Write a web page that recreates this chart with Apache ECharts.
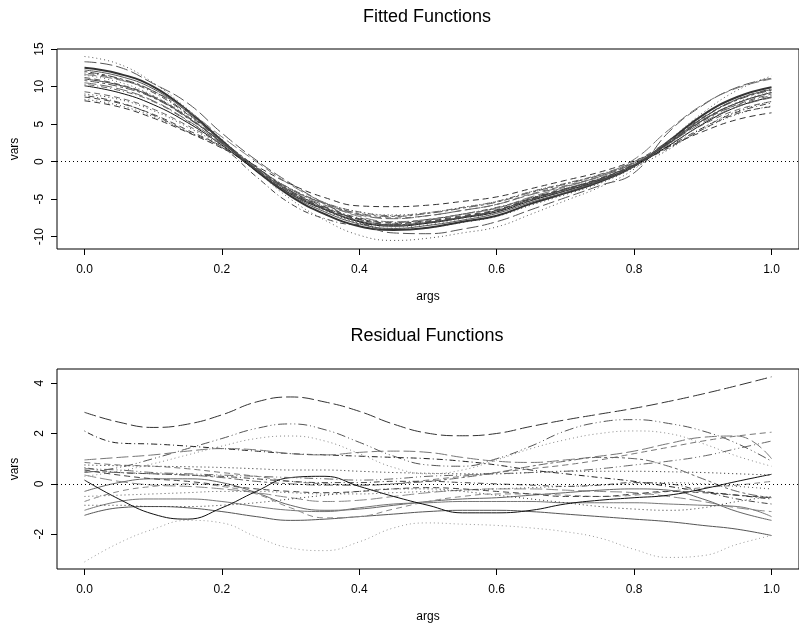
<!DOCTYPE html>
<html><head><meta charset="utf-8">
<script src="https://cdn.jsdelivr.net/npm/echarts@6/dist/echarts.min.js"></script>
<style>html,body{margin:0;padding:0;background:#fff}#c{width:799px;height:624px}</style>
</head><body><div id="c"></div>
<script>
// ---- data ----
const args = [0,0.05,0.1,0.15,0.2,0.25,0.3,0.35,0.4,0.45,0.5,0.55,0.6,0.65,0.7,0.75,0.8,0.85,0.9,0.95,1];
const xTicks = [0,0.2,0.4,0.6,0.8,1];
const fitYTicks = [-10,-5,0,5,10,15];
const resYTicks = [-2,0,2,4];

const fit01 = [12.5,11.7,10.0,6.8,2.8,-1.2,-4.6,-7.0,-8.6,-9.1,-8.8,-8.0,-7.2,-5.6,-4.2,-2.7,-0.6,2.7,6.2,8.6,9.9];
const fit02 = [13.3,12.6,10.4,7.8,3.8,0.2,-2.9,-5.6,-8.0,-9.5,-9.6,-9.0,-8.0,-6.4,-4.8,-3.2,-1.5,3.9,7.5,9.9,11.1];
const fit03 = [14.0,13.0,10.5,7.0,3.0,-1.2,-5.0,-7.8,-9.8,-10.5,-10.2,-9.5,-8.7,-7.0,-5.2,-3.4,-1.0,2.8,6.5,9.5,11.4];
const fit04 = [8.1,7.3,5.8,3.9,1.8,-0.6,-3.0,-4.8,-5.9,-6.0,-5.8,-5.3,-4.7,-3.6,-2.5,-1.4,0.1,2.0,4.0,5.6,6.5];
const fit05 = [8.3,7.5,6.0,4.0,1.9,-0.8,-3.6,-5.5,-6.7,-7.1,-6.8,-6.1,-5.3,-4.0,-2.9,-1.8,-0.2,1.9,4.3,6.3,7.4];
const fit06 = [8.8,7.9,6.2,4.0,1.9,-2.0,-5.6,-7.6,-8.4,-8.3,-7.8,-7.0,-6.1,-4.9,-3.7,-2.4,-0.5,2.0,4.5,6.6,7.8];
const fit07 = [10.1,9.2,7.6,5.2,2.2,-1.2,-4.3,-6.4,-8.0,-8.6,-8.2,-7.5,-6.7,-5.2,-3.9,-2.5,-0.6,2.1,5.0,7.3,8.6];
const fit08 = [11.2,10.3,8.7,6.0,2.6,-0.9,-4.0,-6.2,-7.7,-8.4,-8.0,-7.3,-6.5,-5.0,-3.8,-2.4,-0.5,2.4,5.4,7.6,9.0];
const fit09 = [11.5,10.6,8.8,6.1,2.5,-1.1,-4.3,-6.5,-8.1,-8.7,-8.4,-7.6,-6.8,-5.2,-3.9,-2.5,-0.6,2.3,5.5,7.9,9.3];
const fit10 = [11.8,11.0,9.2,6.3,2.7,-0.8,-3.9,-6.0,-7.5,-8.1,-7.7,-7.0,-6.2,-4.8,-3.6,-2.2,-0.3,2.7,5.9,8.3,9.7];
const fit11 = [10.5,9.7,8.1,5.5,2.4,-1.0,-3.9,-5.8,-7.1,-7.6,-7.2,-6.5,-5.7,-4.4,-3.3,-2.0,-0.2,2.4,5.2,7.3,8.5];
const fit12 = [10.8,10.0,8.5,5.8,2.6,-0.7,-3.7,-5.6,-6.9,-7.3,-6.9,-6.2,-5.4,-4.1,-3.0,-1.8,-0.1,2.6,5.6,7.8,9.2];
const fit13 = [12.2,11.4,9.7,6.6,2.7,-1.1,-4.4,-6.7,-8.3,-8.9,-8.5,-7.8,-6.9,-5.4,-4.1,-2.6,-0.6,2.4,5.8,8.3,9.6];
const fit14 = [9.3,8.5,7.0,4.8,2.3,-0.9,-3.7,-5.6,-7.0,-7.5,-7.2,-6.5,-5.7,-4.3,-3.2,-2.0,-0.2,2.2,4.9,6.9,8.0];
const fit15 = [9.0,8.3,6.8,4.6,2.1,-1.2,-4.3,-6.5,-8.2,-9.0,-8.8,-8.1,-7.3,-5.8,-4.4,-2.9,-0.8,1.6,4.5,6.7,8.0];
const fit16 = [10.3,9.5,8.0,5.4,2.4,-0.8,-3.6,-5.5,-6.7,-7.2,-6.8,-6.1,-5.3,-4.0,-2.9,-1.7,0.0,2.7,5.5,7.5,8.8];
const fit17 = [11.6,10.9,9.4,6.8,3.3,0.0,-3.1,-5.5,-7.3,-8.0,-7.7,-7.0,-6.2,-4.7,-3.4,-1.9,0.3,4.2,7.6,9.8,11.0];
const fit18 = [12.0,11.1,9.4,6.4,2.8,-0.7,-3.9,-6.1,-7.7,-8.4,-8.1,-7.4,-6.6,-5.1,-3.9,-2.5,-0.6,2.5,5.8,8.2,9.5];
const fit19 = [11.0,10.2,8.6,5.9,2.5,-1.0,-4.1,-6.3,-7.9,-8.5,-8.1,-7.4,-6.5,-5.0,-3.7,-2.3,-0.4,2.4,5.5,7.8,9.2];
const fit20 = [8.6,7.8,6.3,4.2,2.0,-1.2,-4.2,-6.2,-7.6,-8.2,-7.9,-7.2,-6.4,-4.9,-3.6,-2.3,-0.4,1.8,4.3,6.4,7.3];

const res01 = [2.84,2.45,2.24,2.37,2.74,3.25,3.45,3.25,2.88,2.37,2.01,1.91,2.0,2.28,2.54,2.77,3.0,3.27,3.57,3.9,4.25];
const res02 = [0.45,0.65,1.0,1.4,1.8,2.2,2.38,2.15,1.65,1.1,0.75,0.7,1.0,1.5,2.1,2.45,2.55,2.4,2.1,1.6,0.9];
const res03 = [0.3,0.5,0.8,1.15,1.5,1.8,1.9,1.7,1.2,0.65,0.4,0.55,0.95,1.4,1.75,2.0,2.1,2.0,1.6,1.1,0.7];
const res04 = [2.1,1.62,1.58,1.5,1.4,1.3,1.2,1.15,1.1,1.05,1.0,0.9,0.75,0.55,0.4,0.25,0.1,-0.1,-0.3,-0.45,-0.6];
const res05 = [0.95,1.05,1.15,1.3,1.4,1.35,1.2,1.15,1.25,1.3,1.25,1.05,0.9,0.85,0.95,1.1,1.3,1.6,1.85,1.9,1.0];
const res06 = [0.85,0.75,0.7,0.6,0.45,0.3,0.1,0.0,-0.05,0.0,0.15,0.3,0.45,0.6,0.75,0.95,1.2,1.45,1.7,1.9,2.05];
const res07 = [0.75,0.72,0.7,0.68,0.65,0.6,0.55,0.55,0.5,0.45,0.42,0.4,0.4,0.45,0.5,0.5,0.5,0.48,0.45,0.4,0.35];
const res08 = [0.65,0.45,0.4,0.35,0.3,0.2,0.1,0.05,0.05,0.1,0.1,0.05,0.0,-0.05,-0.1,-0.05,0.05,0.0,-0.3,-0.6,-0.8];
const res09 = [0.5,0.45,0.4,0.35,0.25,0.1,0.0,-0.05,-0.05,0.0,0.1,0.25,0.45,0.7,0.9,1.05,1.0,0.7,0.2,-0.3,-0.55];
const res10 = [0.35,0.1,-0.05,-0.1,-0.2,-0.35,-0.55,-0.7,-0.65,-0.5,-0.35,-0.25,-0.2,-0.2,-0.25,-0.3,-0.35,-0.5,-0.7,-0.95,-1.1];
const res11 = [-0.3,0.05,0.2,0.2,0.05,-0.35,-0.85,-1.05,-1.0,-0.85,-0.7,-0.6,-0.55,-0.45,-0.35,-0.25,-0.2,-0.25,-0.6,-1.1,-1.45];
const res12 = [-1.05,-0.7,-0.6,-0.6,-0.7,-0.9,-1.05,-1.1,-0.95,-0.8,-0.75,-0.7,-0.7,-0.7,-0.75,-0.75,-0.75,-0.8,-0.85,-0.9,-1.3];
const res13 = [-1.25,-0.95,-0.9,-0.95,-1.1,-1.3,-1.45,-1.4,-1.3,-1.2,-1.1,-1.05,-1.05,-1.1,-1.2,-1.3,-1.4,-1.5,-1.65,-1.8,-2.05];
const res14 = [-0.85,-0.85,-0.9,-0.9,-0.85,-0.75,-0.6,-0.45,-0.3,-0.2,-0.2,-0.3,-0.45,-0.6,-0.75,-0.9,-1.0,-1.05,-0.95,-0.7,-0.5];
const res15 = [-0.7,-0.3,-0.1,0.0,-0.1,-0.4,-0.95,-1.35,-1.3,-1.0,-0.7,-0.5,-0.4,-0.4,-0.45,-0.5,-0.45,-0.3,-0.15,-0.05,0.1];
const res16 = [-3.1,-2.35,-1.8,-1.45,-1.55,-2.1,-2.55,-2.65,-2.3,-1.75,-1.55,-1.6,-1.65,-1.75,-1.9,-2.15,-2.6,-2.92,-2.85,-2.4,-2.05];
const res17 = [0.15,-0.6,-1.2,-1.4,-0.95,-0.3,0.25,0.3,-0.1,-0.5,-0.85,-1.15,-1.15,-1.05,-0.8,-0.65,-0.55,-0.45,-0.2,0.1,0.38];
const res18 = [-0.5,-0.45,-0.4,-0.35,-0.3,-0.3,-0.35,-0.4,-0.4,-0.35,-0.3,-0.25,-0.2,-0.15,-0.1,-0.05,0.0,0.05,0.0,-0.1,-0.2];
const res19 = [0.6,0.55,0.45,0.4,0.35,0.3,0.25,0.2,0.15,0.2,0.3,0.35,0.4,0.45,0.5,0.6,0.75,0.9,1.1,1.4,1.7];
const res20 = [0.55,0.35,0.2,0.1,-0.05,-0.2,-0.3,-0.35,-0.3,-0.2,-0.15,-0.2,-0.3,-0.4,-0.5,-0.5,-0.4,-0.3,-0.35,-0.45,-0.55];

const fitCurves = [fit01,fit02,fit03,fit04,fit05,fit06,fit07,fit08,fit09,fit10,fit11,fit12,fit13,fit14,fit15,fit16,fit17,fit18,fit19,fit20];
const resCurves = [res01,res02,res03,res04,res05,res06,res07,res08,res09,res10,res11,res12,res13,res14,res15,res16,res17,res18,res19,res20];

// ---- styles ----
const LT = {
  solid: 'solid', dashed: [6,4], dotted: [1,3], dotdash: [1,3,6,3],
  longdash: [12,4], twodash: [3,3,9,3], ddd: [9,3,1,3,1,3]
};
const fitStyle = [
  ['solid','#333',2],['longdash','#555',1],['dotted','#555',1],['dashed','#333',1],['dotted','#444',1],
  ['dotdash','#444',1],['solid','#111',1],['dashed','#555',1],['dotted','#666',1],['dotdash','#444',1],
  ['longdash','#666',1],['twodash','#555',1],['solid','#555',1],['dashed','#666',1],['dotted','#333',1],
  ['dotdash','#666',1],['longdash','#777',1],['twodash','#444',1],['solid','#444',1],['dashed','#444',1]
];
const resStyle = [
  ['longdash','#333',1],['ddd','#555',1],['dotted','#888',1],['dotdash','#222',1],['longdash','#777',1],
  ['dashed','#777',1],['dotted','#222',1],['dotdash','#444',1],['twodash','#666',1],['longdash','#888',1],
  ['solid','#666',1],['solid','#777',1],['solid','#555',1],['dotted','#333',1],['dashed','#888',1],
  ['dotted','#999',1],['solid','#111',1],['dotted','#555',1],['ddd','#666',1],['dashed','#444',1]
];

const FONT = 'Liberation Sans, Arial, sans-serif';
const chart = echarts.init(document.getElementById('c'), null, {renderer: 'canvas'});

function mkSeries(curves, styles, gi) {
  return curves.map((vals, k) => ({
    type: 'line', xAxisIndex: gi, yAxisIndex: gi, showSymbol: false, smooth: 0.45,
    animation: false, silent: true, clip: false,
    data: args.map((x, i) => [x, vals[i]]),
    lineStyle: { color: styles[k][1], width: styles[k][2], type: LT[styles[k][0]] },
    markLine: k === 0 ? {
      silent: true, symbol: 'none', animation: false, label: { show: false },
      lineStyle: { color: '#000', type: [1,3], width: 1 },
      data: [{ yAxis: 0 }]
    } : undefined
  }));
}

function xAx(gi) {
  return {
    type: 'value', gridIndex: gi, min: -0.04, max: 1.04,
    name: 'args', nameLocation: 'middle', nameGap: 42,
    nameTextStyle: { fontFamily: FONT, fontSize: 12, color: '#000' },
    axisLine: { show: false, onZero: false },
    axisTick: { show: true, inside: false, length: 6, customValues: xTicks, lineStyle: { color: '#000' } },
    axisLabel: { customValues: xTicks, margin: 15, fontFamily: FONT, fontSize: 12, color: '#000',
                 formatter: v => v.toFixed(1) },
    splitLine: { show: false }
  };
}
function yAx(gi, mn, mx, ticks) {
  return {
    type: 'value', gridIndex: gi, min: mn, max: mx,
    name: 'vars', nameLocation: 'middle', nameGap: 36,
    nameTextStyle: { fontFamily: FONT, fontSize: 12, color: '#000' },
    axisLine: { show: false, onZero: false },
    axisTick: { show: true, inside: false, length: 6, customValues: ticks, lineStyle: { color: '#000' } },
    axisLabel: { customValues: ticks, rotate: 90, margin: 11, fontFamily: FONT, fontSize: 12, color: '#000' },
    splitLine: { show: false }
  };
}

chart.setOption({
  backgroundColor: '#fff',
  animation: false,
  title: [
    { text: 'Fitted Functions', left: 427, top: 8, textAlign: 'center', padding: 0,
      textStyle: { fontFamily: FONT, fontSize: 18, fontWeight: 'normal', color: '#000' } },
    { text: 'Residual Functions', left: 427, top: 327, textAlign: 'center', padding: 0,
      textStyle: { fontFamily: FONT, fontSize: 18, fontWeight: 'normal', color: '#000' } }
  ],
  grid: [
    { left: 57, top: 49, width: 744, height: 200, show: true, borderColor: '#000', borderWidth: 1, backgroundColor: 'transparent' },
    { left: 57, top: 369, width: 744, height: 200, show: true, borderColor: '#000', borderWidth: 1, backgroundColor: 'transparent' }
  ],
  xAxis: [xAx(0), xAx(1)],
  yAxis: [yAx(0, -11.64, 15.0, fitYTicks), yAx(1, -3.38, 4.56, resYTicks)],
  series: mkSeries(fitCurves, fitStyle, 0).concat(mkSeries(resCurves, resStyle, 1))
});
</script></body></html>
